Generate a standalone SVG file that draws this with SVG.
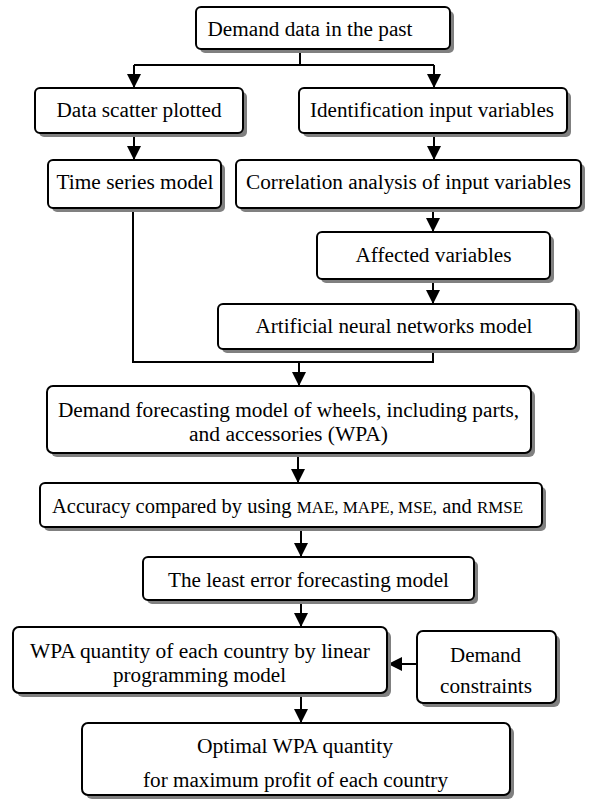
<svg xmlns="http://www.w3.org/2000/svg" width="590" height="800" viewBox="0 0 590 800">
<defs>
<style>
.sh{fill:#808080;}
.bx{fill:#fff;stroke:#000;stroke-width:2;}
text{font-family:"Liberation Serif","Times New Roman",serif;font-size:20px;fill:#000;text-anchor:middle;}
.sm{font-size:16.5px;}
.ln{fill:none;stroke:#000;stroke-width:2;}
</style>
<marker id="ah" markerUnits="userSpaceOnUse" markerWidth="14" markerHeight="14" viewBox="0 0 14 14" refX="14" refY="7" orient="auto">
<path d="M0,0 L14,7 L0,14 z" fill="#000"/>
</marker>
</defs>
<rect width="590" height="800" fill="#fff"/>

<g id="connectors">
<path class="ln" d="M300,49 V65 M134,65 H434"/>
<path class="ln" d="M134,65 V88" marker-end="url(#ah)"/>
<path class="ln" d="M434,65 V88" marker-end="url(#ah)"/>
<path class="ln" d="M134,133 V160" marker-end="url(#ah)"/>
<path class="ln" d="M434,133 V160" marker-end="url(#ah)"/>
<path class="ln" d="M433,208 V232" marker-end="url(#ah)"/>
<path class="ln" d="M433,279 V304" marker-end="url(#ah)"/>
<path class="ln" d="M133,208 V362 H433 V349"/>
<path class="ln" d="M299,362 V386" marker-end="url(#ah)"/>
<path class="ln" d="M298,453 V483" marker-end="url(#ah)"/>
<path class="ln" d="M301,527 V557" marker-end="url(#ah)"/>
<path class="ln" d="M301,600 V627" marker-end="url(#ah)"/>
<path class="ln" d="M417,664 H388" marker-end="url(#ah)"/>
<path class="ln" d="M301,693 V723" marker-end="url(#ah)"/>
</g>

<g id="n1">
<rect class="sh" x="200" y="11" width="254" height="42" rx="5"/>
<rect class="bx" x="196" y="7" width="254" height="42" rx="5"/>
<text x="310" y="36" textLength="205" lengthAdjust="spacingAndGlyphs">Demand data in the past</text>
</g>
<g id="n2">
<rect class="sh" x="39" y="92" width="208" height="45" rx="5"/>
<rect class="bx" x="35" y="88" width="208" height="45" rx="5"/>
<text x="139" y="117" textLength="165" lengthAdjust="spacingAndGlyphs">Data scatter plotted</text>
</g>
<g id="n3">
<rect class="sh" x="52" y="164" width="173" height="48" rx="5"/>
<rect class="bx" x="48" y="160" width="173" height="48" rx="5"/>
<text x="135" y="189" textLength="157" lengthAdjust="spacingAndGlyphs">Time series model</text>
</g>
<g id="n4">
<rect class="sh" x="303" y="92" width="268" height="45" rx="5"/>
<rect class="bx" x="299" y="88" width="268" height="45" rx="5"/>
<text x="432" y="117" textLength="244" lengthAdjust="spacingAndGlyphs">Identification input variables</text>
</g>
<g id="n5">
<rect class="sh" x="240" y="164" width="345" height="48" rx="5"/>
<rect class="bx" x="236" y="160" width="345" height="48" rx="5"/>
<text x="408.5" y="189" textLength="325" lengthAdjust="spacingAndGlyphs">Correlation analysis of input variables</text>
</g>
<g id="n6">
<rect class="sh" x="321" y="236" width="233" height="47" rx="5"/>
<rect class="bx" x="317" y="232" width="233" height="47" rx="5"/>
<text x="433.5" y="262" textLength="156" lengthAdjust="spacingAndGlyphs">Affected variables</text>
</g>
<g id="n7">
<rect class="sh" x="222" y="308" width="358" height="45" rx="5"/>
<rect class="bx" x="218" y="304" width="358" height="45" rx="5"/>
<text x="394" y="333" textLength="277" lengthAdjust="spacingAndGlyphs">Artificial neural networks model</text>
</g>
<g id="n8">
<rect class="sh" x="51" y="390" width="484" height="67" rx="6"/>
<rect class="bx" x="47" y="386" width="484" height="67" rx="6"/>
<text x="288.5" y="417" textLength="461" lengthAdjust="spacingAndGlyphs">Demand forecasting model of wheels, including parts,</text>
<text x="288.5" y="441" textLength="199" lengthAdjust="spacingAndGlyphs">and accessories (WPA)</text>
</g>
<g id="n9">
<rect class="sh" x="44" y="487" width="502" height="44" rx="5"/>
<rect class="bx" x="40" y="483" width="502" height="44" rx="5"/>
<text x="287.5" y="513" textLength="471" lengthAdjust="spacingAndGlyphs">Accuracy compared by using <tspan class="sm">MAE, MAPE, MSE,</tspan> and <tspan class="sm">RMSE</tspan></text>
</g>
<g id="n10">
<rect class="sh" x="147" y="561" width="331" height="43" rx="5"/>
<rect class="bx" x="143" y="557" width="331" height="43" rx="5"/>
<text x="308.5" y="587" textLength="281" lengthAdjust="spacingAndGlyphs">The least error forecasting model</text>
</g>
<g id="n11">
<rect class="sh" x="17" y="631" width="374" height="66" rx="6"/>
<rect class="bx" x="13" y="627" width="374" height="66" rx="6"/>
<text x="200" y="658" textLength="340" lengthAdjust="spacingAndGlyphs">WPA quantity of each country by linear</text>
<text x="199.5" y="682" textLength="173" lengthAdjust="spacingAndGlyphs">programming model</text>
</g>
<g id="n12">
<rect class="sh" x="421" y="635" width="139" height="72" rx="6"/>
<rect class="bx" x="417" y="631" width="139" height="72" rx="6"/>
<text x="485.5" y="662" textLength="71" lengthAdjust="spacingAndGlyphs">Demand</text>
<text x="486" y="693" textLength="92" lengthAdjust="spacingAndGlyphs">constraints</text>
</g>
<g id="n13">
<rect class="sh" x="86" y="727" width="428" height="72" rx="6"/>
<rect class="bx" x="82" y="723" width="428" height="72" rx="6"/>
<text x="295" y="753" textLength="196" lengthAdjust="spacingAndGlyphs">Optimal WPA quantity</text>
<text x="295.5" y="787" textLength="305" lengthAdjust="spacingAndGlyphs">for maximum profit of each country</text>
</g>
</svg>
